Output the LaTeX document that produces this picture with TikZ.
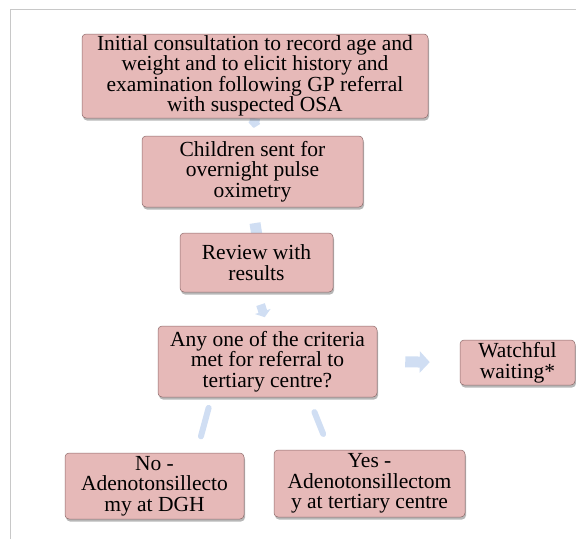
\documentclass[tikz,border=0pt]{standalone}
\usepackage{fontspec}
\setmainfont{Liberation Serif}
\usetikzlibrary{arrows.meta,positioning,shadows,backgrounds}
\definecolor{boxfill}{RGB}{230,185,184}
\definecolor{boxedge}{RGB}{140,105,105}
\definecolor{linkblue}{RGB}{208,222,243}
\definecolor{framegray}{RGB}{200,200,200}
\tikzset{
    >={Triangle[]},
    every picture/.style={line width=0.5pt},
    stepbox/.style={rectangle,draw=boxedge,fill=boxfill,rounded corners=4pt,
        align=center,inner sep=0pt,font=\fontsize{21.5}{20.5}\selectfont,
        drop shadow={shadow xshift=1pt,shadow yshift=-2.5pt,opacity=0.4,fill=black!70}},
    link/.style={draw=linkblue,line width=6pt,line cap=round},
    blockarrow/.style={draw=linkblue,line width=11pt,-{Triangle[width=21pt,length=10pt]}}
}
\begin{document}
\begin{tikzpicture}[x=1pt,y=-1pt]
        \useasboundingbox (0,0) rectangle (576,539);
        % Frame
        \draw[framegray] (10,539) -- (10,9) -- (576,9);

        % Steps
        \node[stepbox,minimum width=346pt,minimum height=84pt] (init) at (255,76)
            {Initial consultation to record age and\\weight and to elicit history and\\examination following GP referral\\with suspected OSA};
        \node[stepbox,minimum width=221pt,minimum height=71pt] (sent) at (252.5,171.5)
            {Children sent for\\overnight pulse\\oximetry};
        \node[stepbox,minimum width=153pt,minimum height=59pt] (review) at (256.5,262.5)
            {Review with\\results};
        \node[stepbox,minimum width=219pt,minimum height=71pt] (criteria) at (267.5,361.5)
            {Any one of the criteria\\met for referral to\\tertiary centre?};
        \node[stepbox,minimum width=115pt,minimum height=45pt] (watch) at (517.5,362.5)
            {Watchful\\waiting*};
        \node[stepbox,minimum width=179pt,minimum height=66pt] (dgh) at (154.5,486)
            {No -\\Adenotonsillecto\\my at DGH};
        \node[stepbox,minimum width=191pt,minimum height=67pt] (tertiary) at (369.5,483.5)
            {Yes -\\Adenotonsillectom\\y at tertiary centre};

        % Connectors
        \begin{scope}[on background layer]
            \draw[draw=linkblue,line width=10pt,-{Triangle[width=14pt,length=6pt,round]},shorten >=8pt] (init.south) -- (sent.north);
            \draw[draw=linkblue,line width=11pt,shorten <=16pt,shorten >=-4pt] (sent.south) -- (review.north);
            \draw[draw=linkblue,line width=9pt,-{Triangle[width=16pt,length=6pt]},shorten <=13pt,shorten >=9pt] (review.south) -- (criteria.north);
            \draw[blockarrow,shorten <=28pt,shorten >=30pt] (criteria.east) -- (watch.west);
            \draw[link,shorten <=11pt,shorten >=17pt] ([xshift=-56pt]criteria.south) -- ([xshift=42pt]dgh.north);
            \draw[link,shorten <=16pt,shorten >=17pt] ([xshift=41pt]criteria.south) -- ([xshift=-40pt]tertiary.north);
        \end{scope}
\end{tikzpicture}
\end{document}
